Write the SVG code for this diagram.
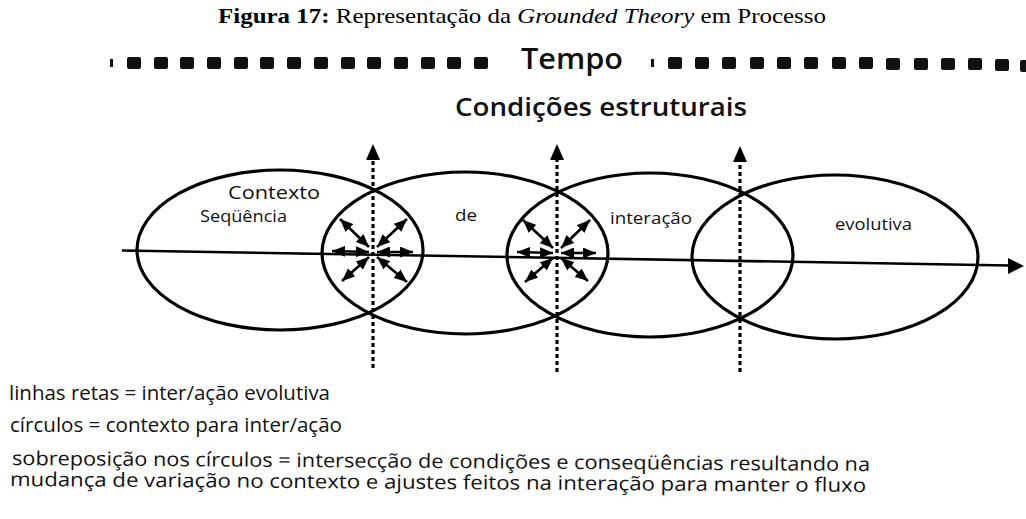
<svg xmlns="http://www.w3.org/2000/svg" width="1026" height="519" viewBox="0 0 1026 519">
<style>
.el{fill:none;stroke:#000;stroke-width:3.2}
.axis{fill:none;stroke:#000;stroke-width:2.6}
.dot{fill:none;stroke:#000;stroke-width:3.2;stroke-dasharray:4 3}
.rad{fill:none;stroke:#000;stroke-width:2.6}
.sq{fill:#111}
.lbl{font-family:"Open Sans","Liberation Sans",sans-serif;fill:#111}
.leg{font-family:"Open Sans","Liberation Sans",sans-serif;fill:#111;font-size:19.5px}
.hd{font-family:"Open Sans","Liberation Sans",sans-serif;fill:#111;font-weight:600}
</style>
<defs>
<marker id="ah" viewBox="0 0 13 11" refX="13" refY="5.5" markerWidth="13" markerHeight="11" orient="auto-start-reverse" markerUnits="userSpaceOnUse">
<path d="M0,0 L13,5.5 L0,11 Z" fill="#000"/>
</marker>
</defs>
<rect width="1026" height="519" fill="#fff"/>
<text x="218" y="23" font-family="'Liberation Serif',serif" font-size="22" fill="#000" textLength="608" lengthAdjust="spacingAndGlyphs"><tspan font-weight="bold">Figura 17:</tspan> Representação da <tspan font-style="italic">Grounded Theory</tspan> em Processo</text>
<g id="tempo">
<rect class="sq" x="110" y="59" width="3" height="8"/>
<g id="tempo-left">
<rect class="sq" x="127" y="57" width="14" height="12" rx="2"/>
<rect class="sq" x="154" y="57" width="14" height="12" rx="2"/>
<rect class="sq" x="180" y="57" width="14" height="12" rx="2"/>
<rect class="sq" x="207" y="57" width="14" height="12" rx="2"/>
<rect class="sq" x="234" y="57" width="14" height="12" rx="2"/>
<rect class="sq" x="260" y="57" width="14" height="12" rx="2"/>
<rect class="sq" x="287" y="57" width="14" height="12" rx="2"/>
<rect class="sq" x="314" y="57" width="14" height="12" rx="2"/>
<rect class="sq" x="341" y="57" width="14" height="12" rx="2"/>
<rect class="sq" x="367" y="57" width="14" height="12" rx="2"/>
<rect class="sq" x="394" y="57" width="14" height="12" rx="2"/>
<rect class="sq" x="421" y="57" width="14" height="12" rx="2"/>
<rect class="sq" x="447" y="57" width="14" height="12" rx="2"/>
<rect class="sq" x="474" y="57" width="14" height="12" rx="2"/>
</g>
<text class="hd" x="521" y="69" font-size="28" textLength="102" lengthAdjust="spacingAndGlyphs">Tempo</text>
<rect class="sq" x="651" y="59" width="3" height="8"/>
<g id="tempo-right">
<rect class="sq" x="668" y="57" width="14" height="12" rx="2"/>
<rect class="sq" x="695" y="57" width="14" height="12" rx="2"/>
<rect class="sq" x="722" y="57" width="14" height="12" rx="2"/>
<rect class="sq" x="750" y="57" width="14" height="12" rx="2"/>
<rect class="sq" x="777" y="57" width="14" height="12" rx="2"/>
<rect class="sq" x="804" y="57" width="14" height="12" rx="2"/>
<rect class="sq" x="832" y="57" width="14" height="12" rx="2"/>
<rect class="sq" x="859" y="57" width="14" height="12" rx="2"/>
<rect class="sq" x="886" y="58" width="14" height="12" rx="2"/>
<rect class="sq" x="914" y="58" width="14" height="12" rx="2"/>
<rect class="sq" x="941" y="58" width="14" height="12" rx="2"/>
<rect class="sq" x="968" y="58" width="14" height="12" rx="2"/>
<rect class="sq" x="995" y="59" width="14" height="12" rx="2"/>
<rect class="sq" x="1020" y="60" width="8" height="12" rx="2"/>
</g>
</g>
<text class="hd" x="455" y="116" font-size="26" textLength="292" lengthAdjust="spacingAndGlyphs">Condições estruturais</text>
<g id="ellipse1"><ellipse class="el" cx="280" cy="250" rx="143" ry="80"/></g>
<g id="ellipse2"><ellipse class="el" cx="465" cy="253" rx="143" ry="81"/></g>
<g id="ellipse3"><ellipse class="el" cx="650" cy="255" rx="143" ry="82"/></g>
<g id="ellipse4"><ellipse class="el" cx="835" cy="257" rx="143" ry="82"/></g>
<g id="connectors">
<line class="axis" x1="122" y1="250.5" x2="1010" y2="265.5"/>
<path d="M1024,266 L1008,258 L1008,274 Z" fill="#000"/>
<line class="dot" x1="373" y1="368" x2="373" y2="158"/>
<path d="M373,144 L366,160 L380,160 Z" fill="#000"/>
<line class="dot" x1="557" y1="372" x2="557" y2="158"/>
<path d="M557,144 L550,160 L564,160 Z" fill="#000"/>
<line class="dot" x1="740" y1="372" x2="740" y2="160"/>
<path d="M740,146 L733,162 L747,162 Z" fill="#000"/>
<g id="lens1-arrows">
<line class="rad" x1="369" y1="252" x2="332" y2="251" marker-start="url(#ah)" marker-end="url(#ah)"/>
<line class="rad" x1="377" y1="252" x2="413" y2="252" marker-start="url(#ah)" marker-end="url(#ah)"/>
<line class="rad" x1="369" y1="247" x2="340" y2="219" marker-start="url(#ah)" marker-end="url(#ah)"/>
<line class="rad" x1="377" y1="247" x2="407" y2="219" marker-start="url(#ah)" marker-end="url(#ah)"/>
<line class="rad" x1="369" y1="257" x2="342" y2="281" marker-start="url(#ah)" marker-end="url(#ah)"/>
<line class="rad" x1="377" y1="257" x2="407" y2="282" marker-start="url(#ah)" marker-end="url(#ah)"/>
</g>
<g id="lens2-arrows">
<line class="rad" x1="553" y1="253" x2="517" y2="252" marker-start="url(#ah)" marker-end="url(#ah)"/>
<line class="rad" x1="561" y1="253" x2="596" y2="253" marker-start="url(#ah)" marker-end="url(#ah)"/>
<line class="rad" x1="553" y1="248" x2="523" y2="220" marker-start="url(#ah)" marker-end="url(#ah)"/>
<line class="rad" x1="561" y1="248" x2="590" y2="220" marker-start="url(#ah)" marker-end="url(#ah)"/>
<line class="rad" x1="553" y1="258" x2="525" y2="282" marker-start="url(#ah)" marker-end="url(#ah)"/>
<line class="rad" x1="561" y1="258" x2="588" y2="281" marker-start="url(#ah)" marker-end="url(#ah)"/>
</g>
</g>
<g id="labels">
<text class="lbl" x="228" y="199" font-size="18" textLength="92" lengthAdjust="spacingAndGlyphs">Contexto</text>
<text class="lbl" x="200" y="222" font-size="16" textLength="87" lengthAdjust="spacingAndGlyphs">Seqüência</text>
<text class="lbl" x="455" y="221" font-size="16" textLength="22" lengthAdjust="spacingAndGlyphs">de</text>
<text class="lbl" x="610" y="224" font-size="16" textLength="82" lengthAdjust="spacingAndGlyphs">interação</text>
<text class="lbl" x="835" y="230" font-size="16" textLength="77" lengthAdjust="spacingAndGlyphs">evolutiva</text>
</g>
<g id="legend">
<text class="leg" x="9" y="400" textLength="321" lengthAdjust="spacingAndGlyphs">linhas retas = inter/ação evolutiva</text>
<text class="leg" x="10" y="432" textLength="332" lengthAdjust="spacingAndGlyphs">círculos = contexto para inter/ação</text>
<text class="leg" x="12" y="465" textLength="858" lengthAdjust="spacingAndGlyphs" transform="rotate(0.4 12 465)">sobreposição nos círculos = intersecção de condições e conseqüências resultando na</text>
<text class="leg" x="10" y="486" textLength="856" lengthAdjust="spacingAndGlyphs" transform="rotate(0.4 10 486)">mudança de variação no contexto e ajustes feitos na interação para manter o fluxo</text>
</g>
</svg>
